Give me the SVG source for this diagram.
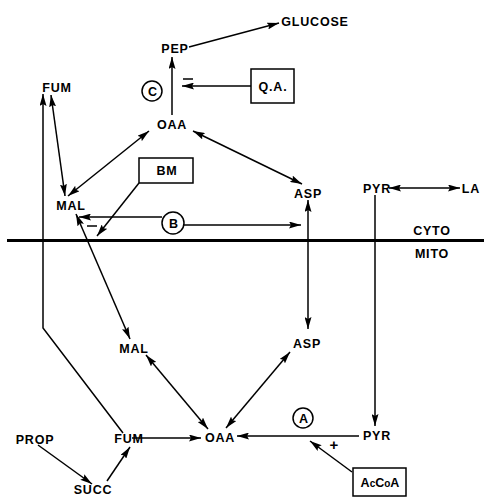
<svg xmlns="http://www.w3.org/2000/svg" width="484" height="497" viewBox="0 0 484 497">
<style>
text{font-family:"Liberation Sans","DejaVu Sans",sans-serif;font-weight:bold;font-size:12.5px;fill:#000;text-anchor:middle;letter-spacing:0.8px}
.c{fill:none;stroke:#000;stroke-width:1.5}
.box{fill:#fff;stroke:#000;stroke-width:1.5}
.arr{marker-end:url(#ah)}
.dbl{marker-start:url(#ah);marker-end:url(#ah)}
</style>
<defs>
<marker id="ah" markerUnits="userSpaceOnUse" markerWidth="12" markerHeight="7" refX="12" refY="3.5" orient="auto-start-reverse" viewBox="0 0 12 7">
<path d="M0,0 L12,3.5 L0,7 L2,3.5 z" fill="#000"/>
</marker>
</defs>
<g id="connectors">
<line class="c" x1="7" y1="240.5" x2="484" y2="240.5" style="stroke-width:2.8"/>
<path class="c arr" d="M189,47 L279,23"/>
<path class="c arr" d="M172,115 L172,57"/>
<path class="c arr" d="M251,86 L182,86"/>
<path class="c arr" d="M123,433 L43,328 L43,94"/>
<path class="c dbl" d="M51,95 L65,196"/>
<path class="c dbl" d="M68,196 L149,131"/>
<path class="c dbl" d="M193,131 L302,184"/>
<path class="c arr" d="M139,183 L97,236"/>
<path class="c arr" d="M162,217 L79,217"/>
<path class="c arr" d="M184,225 L301,225"/>
<path class="c dbl" d="M308,200 L308,329"/>
<path class="c dbl" d="M389,188 L460,188"/>
<path class="c arr" d="M375,195 L375,426"/>
<path class="c dbl" d="M76,214 L130,339"/>
<path class="c dbl" d="M146,355 L208,429"/>
<path class="c dbl" d="M226,428 L290,352"/>
<path class="c arr" d="M359,436 L237,436"/>
<path class="c arr" d="M352,472 L310,441"/>
<path class="c arr" d="M132,438 L201,438"/>
<path class="c arr" d="M38,445 L92,484"/>
<path class="c arr" d="M107,481 L130,447"/>
</g>
<g id="PEP"><text x="175" y="53">PEP</text></g>
<g id="GLUCOSE"><text x="315" y="26">GLUCOSE</text></g>
<g id="FUM_cyto"><text x="57" y="92">FUM</text></g>
<g id="MAL_cyto"><text x="71" y="210">MAL</text></g>
<g id="OAA_cyto"><text x="172" y="129">OAA</text></g>
<g id="ASP_cyto"><text x="308" y="198">ASP</text></g>
<g id="PYR_cyto"><text x="377" y="193">PYR</text></g>
<g id="LA"><text x="471" y="193">LA</text></g>
<g id="CYTO"><text x="432" y="235">CYTO</text></g>
<g id="MITO"><text x="432" y="258">MITO</text></g>
<g id="MAL_mito"><text x="134" y="353">MAL</text></g>
<g id="ASP_mito"><text x="307" y="348">ASP</text></g>
<g id="OAA_mito"><text x="220" y="442">OAA</text></g>
<g id="PYR_mito"><text x="377" y="440">PYR</text></g>
<g id="FUM_mito"><text x="129" y="443">FUM</text></g>
<g id="PROP"><text x="35" y="444">PROP</text></g>
<g id="SUCC"><text x="93" y="494">SUCC</text></g>
<g id="QA"><rect class="box" x="251" y="69" width="43" height="34"/><text x="273" y="91">Q.A.</text></g>
<g id="BM"><rect class="box" x="139" y="158" width="54" height="25"/><text x="167" y="175">BM</text></g>
<g id="AcCoA"><rect class="box" x="353" y="468" width="53" height="28"/><text x="380" y="487" style="letter-spacing:0">A<tspan style="font-size:10px">c</tspan>C<tspan style="font-size:10px">o</tspan>A</text></g>
<g id="C"><circle class="c" cx="152" cy="91" r="10"/><text x="152.5" y="95.5" style="letter-spacing:0">C</text></g>
<g id="B"><circle class="c" cx="173" cy="223" r="11"/><text x="173.5" y="227.5" style="letter-spacing:0">B</text></g>
<g id="A"><circle class="c" cx="303" cy="418" r="10"/><text x="303.5" y="422.5" style="letter-spacing:0">A</text></g>
<g id="signs">
<line class="c" x1="183" y1="79" x2="193" y2="79"/>
<line class="c" x1="87" y1="226" x2="97" y2="226"/>
<text x="334" y="450" style="font-size:15px;letter-spacing:0">+</text>
</g>
</svg>
